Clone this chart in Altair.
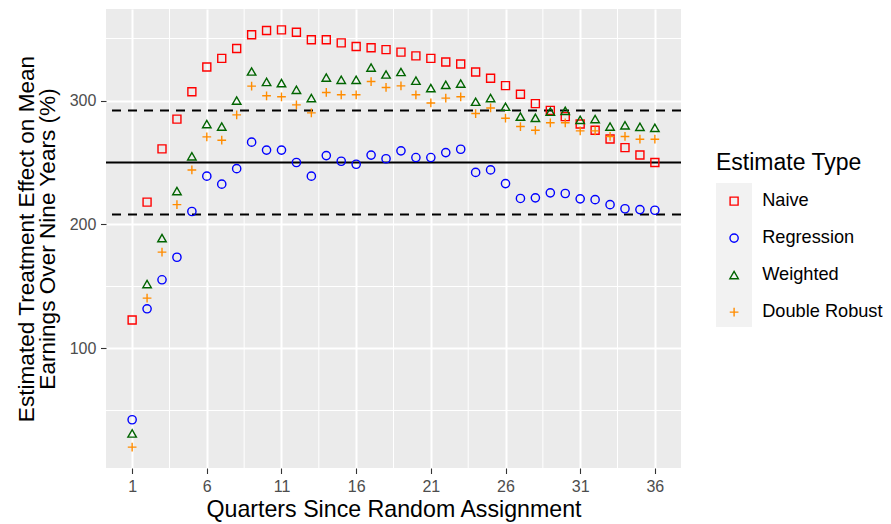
import altair as alt
import pandas as pd

# ---- data ----
quarters = list(range(1, 37))
series_names = ["Naive", "Regression", "Weighted", "Double Robust"]

naive = [123, 218, 261, 285, 307, 327, 334, 342, 353, 356.5, 357, 355,
         349, 349, 346.5, 343.5, 342.5, 341, 339, 336, 334, 331, 329.5, 323,
         318, 312, 305, 297.5, 292, 287, 281, 276, 269, 262, 256, 250]
regression = [42.5, 132, 155.4, 173.6, 210.5, 239, 232.5, 245, 266.4, 260, 260, 250,
              239, 255.6, 251, 248.6, 256, 253, 259.4, 254, 254, 258, 260.7, 242,
              244, 233, 221, 221.5, 225.5, 225, 220.7, 220, 216, 212.7, 212, 211.5]
weighted = [31.5, 152, 189, 227, 255, 281, 279, 300, 323.4, 315, 314, 308.6,
            302, 318.5, 316.7, 316.7, 326.6, 321, 323, 316, 310, 312.6, 313.7, 299,
            302, 295, 287, 286, 291, 291.7, 284.4, 285, 279, 280, 278.8, 278]
double_robust = [20.4, 140.6, 177.7, 216, 244, 270.7, 268, 288.4, 311.6, 303.8, 303, 296.5,
                 290, 306.5, 304.6, 304.6, 315.3, 310.5, 311.8, 304.6, 298, 301.9, 303, 289.5,
                 294, 285.7, 279, 276, 282, 282, 275.5, 275.5, 271, 271, 268.8, 268.8]

x_ticks = [1, 6, 11, 16, 21, 26, 31, 36]
y_ticks = [100, 200, 300]
x_minor = [3.5, 8.5, 13.5, 18.5, 23.5, 28.5, 33.5]
y_minor = [50, 150, 250, 350]
solid_ref = [250]
dashed_ref = [208, 292]

colors = ["#FF0000", "#0000FF", "#006400", "#FF8C00"]
shapes = ["square", "circle", "triangle-up", "M-1,0H1M0,-1V1"]
sizes = [64, 76, 86, 125]

FONT = "Liberation Sans"

rows = []
for name, vals in zip(series_names, [naive, regression, weighted, double_robust]):
    for q, v in zip(quarters, vals):
        rows.append({"quarter": q, "value": v, "series": name})
df = pd.DataFrame(rows)

x_scale = alt.Scale(domain=[-0.75, 37.75], nice=False, zero=False)
y_scale = alt.Scale(domain=[3.6, 373.8], nice=False, zero=False)

X_AX = alt.Axis(values=x_ticks, title="Quarters Since Random Assignment", domain=False,
                grid=True, gridColor="white", gridWidth=2, tickColor="#333333",
                tickWidth=1.1, tickSize=5.5, labelPadding=5, labelFont=FONT,
                labelFontSize=16, labelColor="#4D4D4D", titleFont=FONT,
                titleFontSize=23.2, titleFontWeight="normal", titleColor="black",
                titlePadding=4, labelFlush=False)
Y_AX = alt.Axis(values=y_ticks,
                title=["Estimated Treatment Effect on Mean", "Earnings Over Nine Years (%)"],
                domain=False, grid=True, gridColor="white", gridWidth=2,
                tickColor="#333333", tickWidth=1.1, tickSize=5.5, labelPadding=4.6,
                labelFont=FONT, labelFontSize=16, labelColor="#4D4D4D",
                titleFont=FONT, titleFontSize=22.6, titleFontWeight="normal",
                titleColor="black", titlePadding=10, titleLineHeight=20.7,
                labelFlush=False)

key_bg = alt.Chart(pd.DataFrame({"k": [0]})).mark_rect(color="#F2F2F2").encode(
    x=alt.value(610), x2=alt.value(646), y=alt.value(174), y2=alt.value(318)
)

minor_x = alt.Chart(pd.DataFrame({"quarter": x_minor})).mark_rule(
    color="white", strokeWidth=1
).encode(x=alt.X("quarter:Q", scale=x_scale, axis=X_AX))

minor_y = alt.Chart(pd.DataFrame({"value": y_minor})).mark_rule(
    color="white", strokeWidth=1
).encode(y=alt.Y("value:Q", scale=y_scale, axis=Y_AX))

ref_solid = alt.Chart(pd.DataFrame({"value": solid_ref})).mark_rule(
    color="black", strokeWidth=2
).encode(y=alt.Y("value:Q", scale=y_scale, axis=Y_AX))

ref_dashed = alt.Chart(pd.DataFrame({"value": dashed_ref})).mark_rule(
    color="black", strokeWidth=2, strokeDash=[9, 7]
).encode(y=alt.Y("value:Q", scale=y_scale, axis=Y_AX))

points = alt.Chart(df).mark_point(filled=False, strokeWidth=1.4, opacity=1).encode(
    x=alt.X("quarter:Q", scale=x_scale, axis=X_AX),
    y=alt.Y("value:Q", scale=y_scale, axis=Y_AX),
    color=alt.Color("series:N", scale=alt.Scale(domain=series_names, range=colors),
                    legend=alt.Legend(title="Estimate Type")),
    shape=alt.Shape("series:N", scale=alt.Scale(domain=series_names, range=shapes),
                    legend=alt.Legend(title="Estimate Type")),
    size=alt.Size("series:N", scale=alt.Scale(domain=series_names, range=sizes),
                  legend=None),
)

chart = alt.layer(key_bg, minor_x, minor_y, ref_solid, ref_dashed, points).properties(
    width=575, height=459,
    padding={"left": 98, "top": 1, "right": 202, "bottom": 56},
    autosize=alt.AutoSizeParams(type="none"),
).configure_view(fill="#EBEBEB", strokeWidth=0).configure_legend(
    orient="none", legendX=610, legendY=143, padding=0,
    titleFont=FONT, titleFontSize=23, titleFontWeight="normal", titleColor="black",
    titlePadding=17, labelFont=FONT, labelFontSize=18.2, labelColor="black",
    symbolSize=90, symbolStrokeWidth=1.4, symbolOffset=9, labelOffset=19,
    rowPadding=18, symbolType="circle", labelLimit=300
)

chart.save("out.html", embed_options={"renderer": "svg", "actions": False})
